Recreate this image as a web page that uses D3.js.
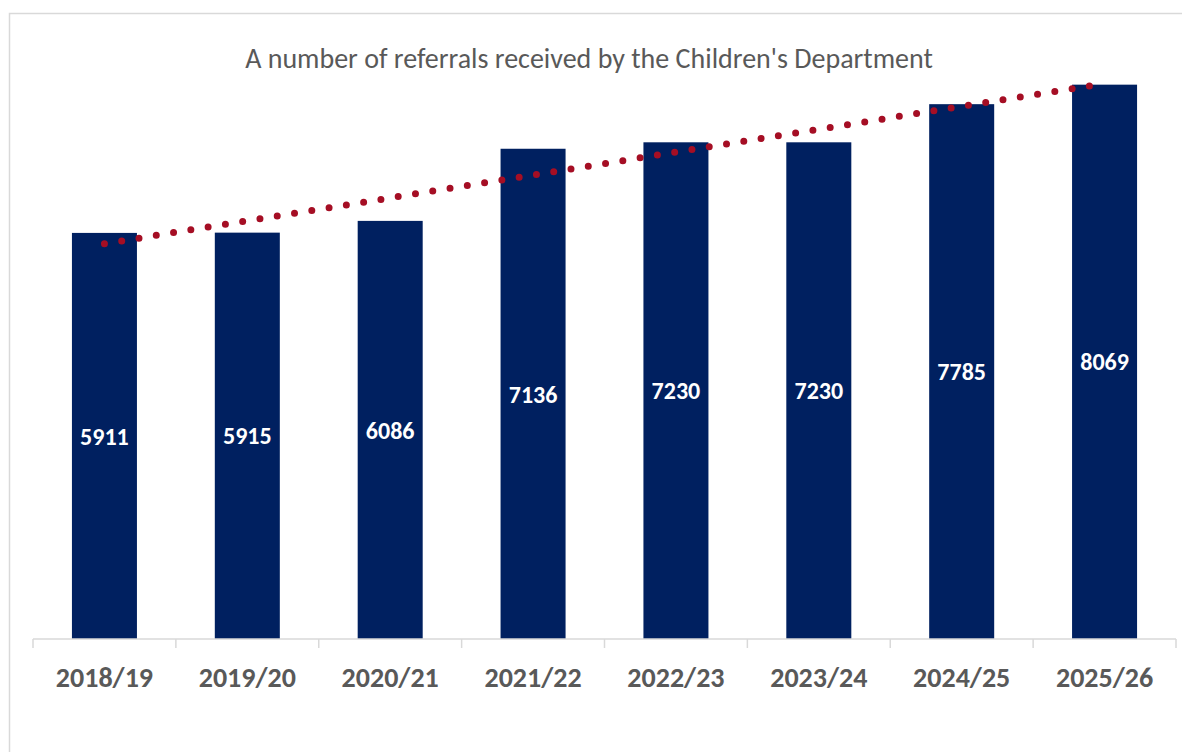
<!DOCTYPE html>
<html>
<head>
<meta charset="utf-8">
<script src="https://cdn.jsdelivr.net/npm/d3@7"></script>
<style>
  body { margin: 0; background: #fff; }
  svg { display: block; font-family: Carlito, Calibri, Lato, sans-serif; }
</style>
</head>
<body>
<svg width="1182" height="752"></svg>
<script>
const years = ["2018/19", "2019/20", "2020/21", "2021/22", "2022/23", "2023/24", "2024/25", "2025/26"];
const referrals = [5911, 5915, 6086, 7136, 7230, 7230, 7785, 8069];
const title = "A number of referrals received by the Children's Department";

const svg = d3.select("svg");
const width = +svg.attr("width");
const height = +svg.attr("height");
const plot = { left: 33, right: 1176, top: 83, bottom: 639 };

// outer chart border
svg.append("rect")
    .attr("x", 9.5).attr("y", 13.5)
    .attr("width", width).attr("height", height)
    .attr("fill", "none").attr("stroke", "#d9d9d9").attr("stroke-width", 1.5);

const x = d3.scaleBand()
    .domain(years)
    .range([plot.left, plot.right])
    .paddingInner(0.545).paddingOuter(0.2725);

const y = d3.scaleLinear()
    .domain([0, 8100])
    .range([plot.bottom, plot.bottom - 0.0687 * 8100]);

// title
svg.append("text")
    .attr("x", 589).attr("y", 68)
    .attr("text-anchor", "middle")
    .attr("fill", "#595959")
    .style("font-size", "28px")
    .text(title);

// bars
const data = years.map((d, i) => ({ year: d, value: referrals[i] }));
svg.append("g").selectAll("rect")
    .data(data)
    .join("rect")
    .attr("x", d => x(d.year))
    .attr("y", d => y(d.value))
    .attr("width", x.bandwidth())
    .attr("height", d => y(0) - y(d.value))
    .attr("fill", "#002060");

// value labels in the middle of the bars
svg.append("g").selectAll("text")
    .data(data)
    .join("text")
    .attr("x", d => x(d.year) + x.bandwidth() / 2)
    .attr("y", d => (y(d.value) + y(0)) / 2)
    .attr("dy", "0.36em")
    .attr("text-anchor", "middle")
    .attr("fill", "#fff")
    .style("font-size", "24px")
    .style("font-weight", "bold")
    .text(d => d.value);

// linear trendline (least squares)
const n = referrals.length;
const xs = d3.range(1, n + 1);
const mx = d3.mean(xs), my = d3.mean(referrals);
const slope = d3.sum(xs, (v, i) => (v - mx) * (referrals[i] - my)) / d3.sum(xs, v => (v - mx) ** 2);
const intercept = my - slope * mx;
const trend = [1, n].map(v => ({ year: years[v - 1], value: intercept + slope * v }));

svg.append("path")
    .datum(trend)
    .attr("d", d3.line()
        .x(d => x(d.year) + x.bandwidth() / 2)
        .y(d => y(d.value)))
    .attr("fill", "none")
    .attr("stroke", "#a50e24")
    .attr("stroke-width", 7)
    .attr("stroke-linecap", "round")
    .attr("stroke-dasharray", "0 17.5");

// x axis
const axis = svg.append("g")
    .attr("transform", `translate(0,${plot.bottom})`);
axis.append("line")
    .attr("x1", plot.left).attr("x2", plot.right)
    .attr("stroke", "#d9d9d9").attr("stroke-width", 1.5);
const step = x.step();
axis.selectAll(".tick")
    .data(d3.range(years.length + 1))
    .join("line")
    .attr("class", "tick")
    .attr("x1", i => plot.left + i * step).attr("x2", i => plot.left + i * step)
    .attr("y1", 0).attr("y2", 9)
    .attr("stroke", "#d9d9d9").attr("stroke-width", 1.5);
axis.selectAll(".lbl")
    .data(years)
    .join("text")
    .attr("class", "lbl")
    .attr("x", d => x(d) + x.bandwidth() / 2)
    .attr("y", 48)
    .attr("text-anchor", "middle")
    .attr("fill", "#595959")
    .style("font-size", "28px")
    .style("font-weight", "bold")
    .text(d => d);
</script>
</body>
</html>
